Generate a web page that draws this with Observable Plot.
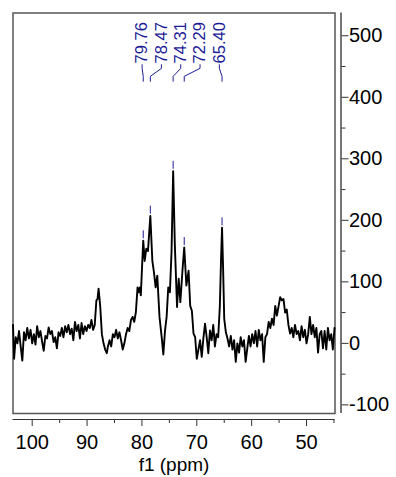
<!DOCTYPE html>
<html>
<head>
<meta charset="utf-8">
<script src="https://cdn.jsdelivr.net/npm/d3@7"></script>
<script src="https://cdn.jsdelivr.net/npm/@observablehq/plot@0.6"></script>
<style>
  html, body { margin: 0; padding: 0; background: #fff; }
</style>
</head>
<body>
<div id="chart"></div>
<script>
// Spectrum: chemical shift (ppm) and intensity
const ppm = [
  103.5,103.3,103.0,102.7,102.4,102.1,101.8,101.5,101.2,100.9,100.6,100.3,100.0,
  99.7,99.4,99.1,98.8,98.5,98.2,97.9,97.6,97.3,97.0,96.7,96.4,96.1,95.8,95.5,95.2,
  94.9,94.6,94.3,94.0,93.7,93.4,93.1,92.8,92.5,92.2,91.9,91.6,91.3,91.0,90.7,90.4,
  90.1,89.8,89.5,89.2,88.9,88.6,88.3,88.1,87.9,87.6,87.3,87.0,86.7,86.4,86.2,85.9,
  85.6,85.3,85.0,84.7,84.4,84.1,83.8,83.5,83.2,82.9,82.6,82.3,82.0,81.7,81.4,81.1,
  80.8,80.6,80.4,80.2,80.0,79.76,79.5,79.2,78.9,78.47,78.1,77.8,77.5,77.2,76.8,
  76.4,76.1,75.8,75.5,75.2,74.9,74.6,74.31,74.0,73.6,73.3,73.0,72.6,72.29,71.9,
  71.5,71.2,70.9,70.6,70.3,70.0,69.7,69.4,69.1,68.8,68.5,68.2,67.9,67.6,67.3,67.0,
  66.7,66.4,66.1,65.8,65.6,65.40,65.2,65.0,64.7,64.4,64.1,63.8,63.5,63.2,62.9,62.6,
  62.3,62.0,61.7,61.4,61.1,60.8,60.5,60.2,59.9,59.6,59.3,59.0,58.7,58.4,58.1,57.8,
  57.5,57.2,56.9,56.6,56.3,56.0,55.7,55.4,55.1,54.8,54.5,54.2,53.9,53.6,53.3,53.0,
  52.7,52.4,52.1,51.8,51.5,51.2,50.9,50.6,50.3,50.0,49.7,49.4,49.1,48.8,48.5,48.2,
  47.9,47.6,47.3,47.0,46.7,46.4,46.1,45.8,45.5,45.2,44.9
];
const intensity = [
  30,-25,10,0,20,-5,-28,18,5,25,8,22,0,
  15,-2,28,10,20,3,-12,12,8,26,15,20,2,10,-8,18,
  12,25,10,28,18,30,15,24,5,35,20,30,8,33,15,28,
  20,30,25,38,22,30,70,72,89,60,15,0,-10,-16,-5,5,
  -5,15,10,22,8,18,5,-10,0,15,25,20,38,43,35,51,
  91,83,91,78,120,167,134,154,150,207,134,115,91,110,43,
  10,-18,20,43,91,83,150,280,160,59,105,67,120,156,94,
  118,61,53,16,10,-25,-10,5,-22,8,32,10,-16,21,5,30,
  -5,15,10,60,130,188,120,40,18,8,-5,12,-10,5,-30,0,
  -15,10,-5,5,-30,-8,12,-5,15,0,20,-5,22,5,15,-30,
  10,15,35,25,40,30,61,45,60,75,70,72,50,55,30,16,
  25,10,30,15,20,5,28,10,22,0,15,43,15,30,10,25,
  -15,15,20,-8,20,-10,25,5,15,-10,25
];

// Picked peaks
const peakPpm = [79.76, 78.47, 74.31, 72.29, 65.40];
const peakLabel = ["79.76", "78.47", "74.31", "72.29", "65.40"];
const peakHeight = [167, 207, 280, 156, 188];

// Axis ticks
const xTicks = [100, 90, 80, 70, 60, 50];
const xMinorTicks = [95, 85, 75, 65, 55, 45];
const yTicks = [-100, 0, 100, 200, 300, 400, 500];
const yMinorTicks = [-50, 50, 150, 250, 350, 450];
const xLabel = "f1 (ppm)";

const spectrum = ppm.map((p, i) => ({ppm: p, v: intensity[i]}));

// Label layout: labels spread evenly above the peaks
const labelStep = 3.52;
const labelStart = 79.97;
const peaks = peakPpm.map((p, i) => ({
  ppm: p, label: peakLabel[i], h: peakHeight[i], lx: labelStart - i * labelStep
}));
const yTextEnd = 455, yBend1 = 447, yBend2 = 434, yLineEnd = 426;
const connectors = peaks.flatMap((d, i) => [
  {i, x: d.lx, y: yTextEnd - 2},
  {i, x: d.lx, y: yBend1},
  {i, x: d.ppm, y: yBend2},
  {i, x: d.ppm, y: yLineEnd}
]);

const font = "Liberation Sans";
const blue = "#1c1c96";
const xmin = 103.5, xmax = 44.81, ymin = -114, ymax = 537;
const fmt = d => String(d);

const chart = Plot.plot({
  width: 396,
  height: 477,
  marginLeft: 12.5,
  marginRight: 61.5,
  marginTop: 12.5,
  marginBottom: 64,
  style: {fontFamily: font, background: "#fff", color: "#000"},
  x: {domain: [xmin, xmax]},
  y: {domain: [ymin, ymax]},
  marks: [
    Plot.frame({stroke: "#555", strokeWidth: 1.5}),
    // separated axis lines
    Plot.ruleX([xmax], {dx: 6, stroke: "#666", strokeWidth: 1.8}),
    Plot.ruleY([ymin], {dy: 6, stroke: "#333", strokeWidth: 1.2}),
    Plot.axisX({ticks: xTicks, tickFormat: fmt, tickSize: 7, dy: 6, tickPadding: 8, fontSize: 20, label: null, stroke: "#333", fill: "#000"}),
    Plot.axisX({ticks: xMinorTicks, tickSize: 4, dy: 6, text: null, label: null, stroke: "#333"}),
    Plot.axisY({anchor: "right", ticks: yTicks, tickFormat: fmt, tickSize: 7, dx: 6, tickPadding: 1, fontSize: 20, label: null, stroke: "#333", fill: "#000"}),
    Plot.axisY({anchor: "right", ticks: yMinorTicks, tickSize: 4, dx: 6, text: null, label: null, stroke: "#333"}),
    Plot.text([xLabel], {frameAnchor: "bottom", dy: 51, fontSize: 19, fill: "#000", lineAnchor: "middle"}),
    // spectrum
    Plot.line(spectrum, {x: "ppm", y: "v", stroke: "#000", strokeWidth: 1.9, strokeLinejoin: "round"}),
    // peak markers
    Plot.ruleX(peaks, {x: "ppm", y1: d => d.h + 3, y2: d => d.h + 16, stroke: blue, strokeWidth: 1}),
    Plot.line(connectors, {x: "x", y: "y", z: "i", stroke: blue, strokeWidth: 1}),
    Plot.text(peaks, {x: "lx", y: yTextEnd, text: "label", rotate: -90, textAnchor: "start", lineAnchor: "middle", fill: blue, fontSize: 16.5})
  ]
});
document.getElementById("chart").appendChild(chart);
</script>
</body>
</html>
